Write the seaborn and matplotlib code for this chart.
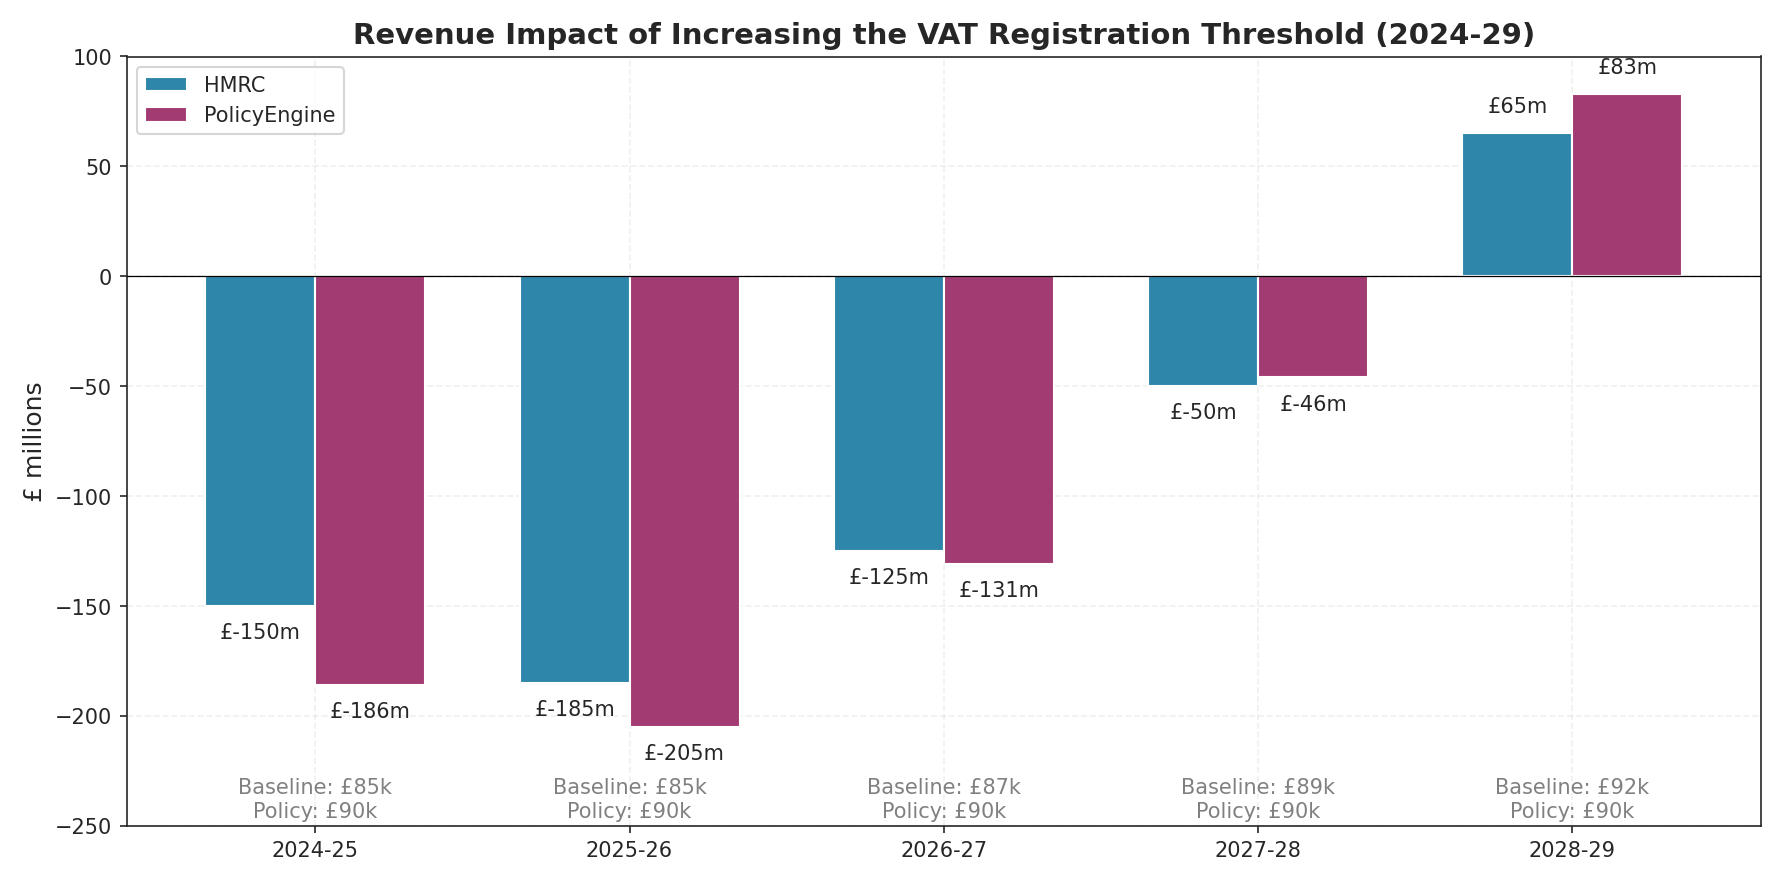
import pandas as pd
import matplotlib
matplotlib.use("Agg")
import matplotlib.pyplot as plt
import seaborn as sns

years = ["2024-25", "2025-26", "2026-27", "2027-28", "2028-29"]
hmrc = [-150, -185, -125, -50, 65]
policyengine = [-186, -205, -131, -46, 83]
baseline = ["£85k", "£85k", "£87k", "£89k", "£92k"]
policy = ["£90k", "£90k", "£90k", "£90k", "£90k"]

df = pd.DataFrame({
    "year": years * 2,
    "value": hmrc + policyengine,
    "source": ["HMRC"] * 5 + ["PolicyEngine"] * 5,
})

sns.set_style("ticks")
plt.rcParams["font.family"] = ["DejaVu Sans"]

fig, ax = plt.subplots(figsize=(11.89, 5.89), dpi=150)
sns.barplot(data=df, x="year", y="value", hue="source", order=years,
            palette={"HMRC": "#2E86AB", "PolicyEngine": "#A23B72"},
            width=0.7, saturation=1, ax=ax, zorder=3)

for cont in ax.containers:
    for bar in cont:
        h = bar.get_height()
        x = bar.get_x() + bar.get_width() / 2
        off = 8 if h >= 0 else -8
        ax.annotate(f"£{h:.0f}m", (x, h), xytext=(0, off), textcoords="offset points",
                    ha="center", va="bottom" if h >= 0 else "top", fontsize=10)

for i in range(len(years)):
    ax.text(i, -238, f"Baseline: {baseline[i]}\nPolicy: {policy[i]}",
            ha="center", va="center", fontsize=10, color="gray")

ax.axhline(0, color="black", linewidth=0.6, zorder=4)
ax.set_ylim(-250, 100)
ax.set_xlim(-0.6, 4.6)
ax.grid(True, linestyle="--", alpha=0.3, zorder=0)
ax.set_axisbelow(True)
ax.set_xlabel("")
ax.set_ylabel("£ millions", fontsize=12)
ax.set_title("Revenue Impact of Increasing the VAT Registration Threshold (2024-29)",
             fontsize=14, fontweight="bold")
ax.legend(title=None, loc="upper left", fontsize=10)
plt.tight_layout()
plt.savefig("out.png", dpi=150)
